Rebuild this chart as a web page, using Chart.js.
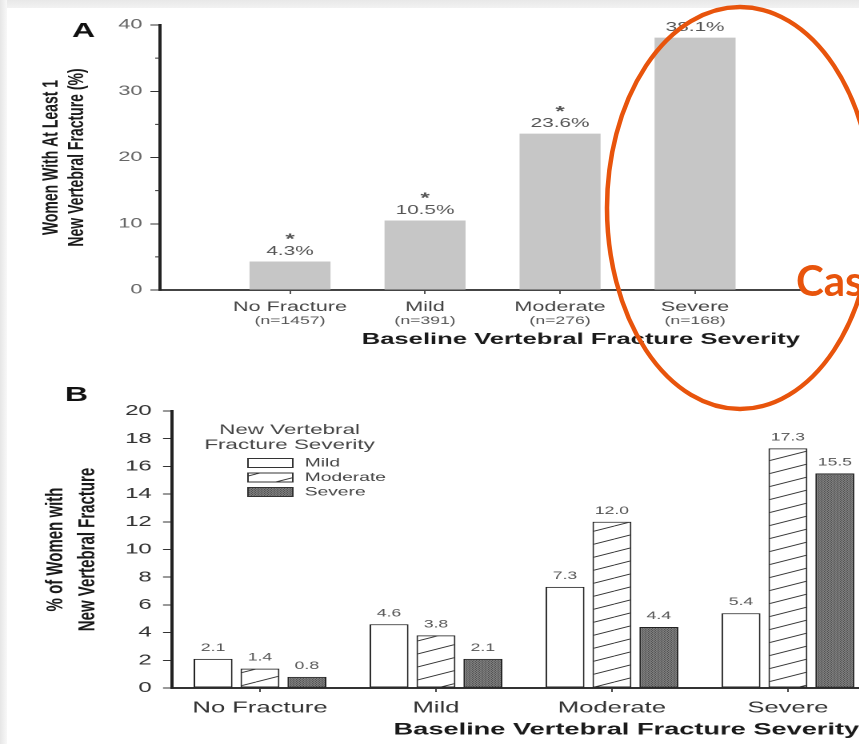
<!DOCTYPE html>
<html>
<head>
<meta charset="utf-8">
<script src="https://cdn.jsdelivr.net/npm/chart.js@4.4.1/dist/chart.umd.min.js"></script>
<style>
  body { margin: 0; background: #fff; }
  #page { position: relative; width: 859px; height: 744px; overflow: hidden; background: #fff; }
  /* the scanned figure is stretched sideways, so the canvases are too */
  #page canvas { position: absolute; left: 0; transform-origin: 0 0; transform: scaleX(1.6); }
  #chartA { top: 0; }
  #chartB { top: 370px; }
  .strip-top { position: absolute; left: 0; top: 0; width: 859px; height: 8px; background: linear-gradient(to bottom, #e8e8e8, #f2f2f2); }
  .strip-left { position: absolute; left: 0; top: 0; width: 7px; height: 744px; background: linear-gradient(to right, #e6e6e6, #f8f8f8); }
  #marks { position: absolute; left: 0; top: 0; }
</style>
</head>
<body>
<div id="page">
  <canvas id="chartA" width="537" height="370"></canvas>
  <canvas id="chartB" width="537" height="374"></canvas>
  <div class="strip-top"></div>
  <div class="strip-left"></div>
  <svg id="marks" width="859" height="744">
    <ellipse cx="740" cy="208" rx="133" ry="201" fill="none" stroke="#e8540c" stroke-width="4.5"/>
    <text x="796" y="296" font-family="Lato, 'Open Sans', sans-serif" font-weight="bold" font-size="42" fill="#e8540c">Cas</text>
  </svg>
</div>

<script>
// Vertebral fracture figure: panel A (any new fracture) and panel B (by new severity)

const severities = ['No Fracture', 'Mild', 'Moderate', 'Severe'];
const baselineN = [1457, 391, 276, 168];
const pctAtLeastOne = [4.3, 10.5, 23.6, 38.1];
const significant = [true, true, true, false];

const newMild = [2.1, 4.6, 7.3, 5.4];
const newModerate = [1.4, 3.8, 12.0, 17.3];
const newSevere = [0.8, 2.1, 4.4, 15.5];
const newLabels = ['Mild', 'Moderate', 'Severe'];
const legendTitle = ['New Vertebral', 'Fracture Severity'];

const yTitleA = ['Women With At Least 1', 'New Vertebral Fracture (%)'];
const yTitleB = ['% of Women with', 'New Vertebral Fracture'];
const xTitle = 'Baseline Vertebral Fracture Severity';

const FONT = '"Liberation Sans", Arial, Helvetica, sans-serif';

function hatchPattern() {
  const c = document.createElement('canvas');
  c.width = 64; c.height = 26;
  const g = c.getContext('2d');
  g.fillStyle = '#fff';
  g.fillRect(0, 0, 64, 26);
  g.strokeStyle = '#333';
  g.lineWidth = 1.8;
  g.beginPath();
  for (const dy of [-26, 0, 26]) {
    g.moveTo(0, 26 + dy);
    g.lineTo(64, dy);
  }
  g.stroke();
  const p = g.createPattern(c, 'repeat');
  p.setTransform(new DOMMatrix().scale(0.5));
  return p;
}

function dotPattern() {
  const c = document.createElement('canvas');
  c.width = 4; c.height = 4;
  const g = c.getContext('2d');
  g.fillStyle = '#4e4e4e';
  g.fillRect(0, 0, 4, 4);
  g.fillStyle = '#b8b8b8';
  g.fillRect(0, 0, 1, 1); g.fillRect(2, 0, 1, 1);
  g.fillRect(1, 2, 1, 1); g.fillRect(3, 2, 1, 1);
  g.fillStyle = '#808080';
  g.fillRect(1, 0, 1, 1); g.fillRect(0, 2, 1, 1);
  const p = g.createPattern(c, 'repeat');
  p.setTransform(new DOMMatrix().scale(0.5));
  return p;
}

const categoryTicks = s => { s.ticks = severities.map((_, i) => ({ value: i })); };

// ---- panel A ----
const panelA = {
  id: 'panelA',
  afterDraw(chart) {
    const { ctx, scales: { x, y } } = chart;
    ctx.save();
    ctx.strokeStyle = '#333';
    ctx.lineWidth = 1;
    for (let v = 5; v < 40; v += 10) {
      const py = y.getPixelForValue(v);
      ctx.beginPath();
      ctx.moveTo(x.left - 3, py);
      ctx.lineTo(x.left, py);
      ctx.stroke();
    }
    ctx.textAlign = 'center';
    ctx.textBaseline = 'middle';
    ctx.fillStyle = '#555';
    ctx.font = `11px ${FONT}`;
    baselineN.forEach((n, i) => ctx.fillText(`(n=${n})`, x.getPixelForValue(i), x.top + 31));

    chart.getDatasetMeta(0).data.forEach((bar, i) => {
      ctx.font = `13px ${FONT}`;
      ctx.fillText(pctAtLeastOne[i].toFixed(1) + '%', bar.x, bar.y - 10);
      if (significant[i]) {
        ctx.font = `bold 15px ${FONT}`;
        ctx.fillText('*', bar.x, bar.y - 22);
      }
    });

    ctx.fillStyle = '#111';
    ctx.textAlign = 'left';
    ctx.textBaseline = 'alphabetic';
    ctx.font = `bold 20px ${FONT}`;
    ctx.fillText('A', 45, 37);
    ctx.restore();
  }
};

new Chart(document.getElementById('chartA'), {
  type: 'bar',
  data: {
    datasets: [{
      data: pctAtLeastOne.map((v, i) => ({ x: i, y: v })),
      backgroundColor: '#c6c6c6',
      barPercentage: 0.6,
      categoryPercentage: 1
    }]
  },
  options: {
    responsive: false,
    devicePixelRatio: 2,
    animation: false,
    layout: { padding: { top: 25, right: 37, bottom: 10, left: 0 } },
    plugins: { legend: { display: false }, tooltip: { enabled: false } },
    scales: {
      x: {
        type: 'linear',
        min: -0.963,
        max: 3.777,
        offset: false,
        afterBuildTicks: categoryTicks,
        afterFit: s => { s.height = 70; },
        ticks: {
          callback: v => severities[v],
          autoSkip: false,
          maxRotation: 0,
          padding: 5,
          color: '#444',
          font: { family: FONT, size: 13.5 }
        },
        grid: { offset: false, drawOnChartArea: false, tickLength: 4, color: '#555' },
        border: { color: '#444', width: 2 },
        title: {
          display: true,
          text: xTitle,
          align: 'end',
          color: '#1a1a1a',
          font: { family: FONT, size: 16, weight: 'bold' },
          padding: { bottom: 11 }
        }
      },
      y: {
        min: 0,
        max: 40,
        afterFit: s => { s.width = 100; },
        ticks: { stepSize: 10, padding: 5, color: '#666', font: { family: FONT, size: 13.5 } },
        grid: { drawOnChartArea: false, tickLength: 6, color: '#333' },
        border: { color: '#222', width: 2 },
        title: {
          display: true,
          text: yTitleA,
          color: '#1a1a1a',
          font: { family: FONT, size: 14, weight: 'bold', lineHeight: 1.16 },
          padding: { top: 24 }
        }
      }
    }
  },
  plugins: [panelA]
});

// ---- panel B ----
const panelB = {
  id: 'panelB',
  afterDraw(chart) {
    const { ctx } = chart;
    ctx.save();
    ctx.textAlign = 'center';
    ctx.textBaseline = 'middle';
    ctx.fillStyle = '#555';
    ctx.font = `11px ${FONT}`;
    chart.data.datasets.forEach((ds, d) => {
      chart.getDatasetMeta(d).data.forEach((bar, i) => {
        ctx.fillText(ds.data[i].y.toFixed(1), bar.x, bar.y - 11);
      });
    });

    // legend in the upper left of the plot
    ctx.fillStyle = '#444';
    ctx.font = `14px ${FONT}`;
    legendTitle.forEach((t, k) => ctx.fillText(t, 181, 60 + k * 15));
    ctx.textAlign = 'left';
    ctx.font = `12px ${FONT}`;
    chart.data.datasets.forEach((ds, d) => {
      const yy = 93 + d * 14.5;
      ctx.fillStyle = ds.backgroundColor;
      ctx.fillRect(155, yy - 4.5, 28, 9);
      ctx.strokeStyle = '#333';
      ctx.lineWidth = 1;
      ctx.strokeRect(155, yy - 4.5, 28, 9);
      ctx.fillStyle = '#444';
      ctx.fillText(ds.label, 190.5, yy);
    });

    ctx.fillStyle = '#111';
    ctx.textBaseline = 'alphabetic';
    ctx.font = `bold 20px ${FONT}`;
    ctx.fillText('B', 40.6, 31);
    ctx.restore();
  }
};

const seriesB = [newMild, newModerate, newSevere];
const fillsB = ['#fff', hatchPattern(), dotPattern()];

new Chart(document.getElementById('chartB'), {
  type: 'bar',
  data: {
    datasets: seriesB.map((vals, d) => ({
      label: newLabels[d],
      data: vals.map((v, i) => ({ x: i, y: v })),
      backgroundColor: fillsB[d],
      borderColor: '#222',
      borderWidth: 1,
      borderSkipped: false,
      barPercentage: 0.83,
      categoryPercentage: 0.8
    }))
  },
  options: {
    responsive: false,
    devicePixelRatio: 2,
    animation: false,
    layout: { padding: { top: 41, right: 0, bottom: 0, left: 0 } },
    plugins: { legend: { display: false }, tooltip: { enabled: false } },
    scales: {
      x: {
        type: 'linear',
        min: -0.5,
        max: 3.405,
        offset: false,
        afterBuildTicks: categoryTicks,
        afterFit: s => { s.height = 56; },
        ticks: {
          callback: v => severities[v],
          autoSkip: false,
          maxRotation: 0,
          padding: 6.4,
          color: '#333',
          font: { family: FONT, size: 16 }
        },
        grid: { offset: false, drawOnChartArea: false, tickLength: 4, color: '#444' },
        border: { color: '#333', width: 2 },
        title: {
          display: true,
          text: xTitle,
          align: 'end',
          color: '#1a1a1a',
          font: { family: FONT, size: 17, weight: 'bold' },
          padding: { bottom: 3.8 }
        }
      },
      y: {
        min: 0,
        max: 20,
        afterFit: s => { s.width = 107.5; },
        ticks: { stepSize: 2, padding: 7, color: '#333', font: { family: FONT, size: 15 } },
        grid: { drawOnChartArea: false, tickLength: 5.6, color: '#333' },
        border: { color: '#222', width: 2 },
        title: {
          display: true,
          text: yTitleB,
          color: '#1a1a1a',
          font: { family: FONT, size: 15, weight: 'bold', lineHeight: 1.33 },
          padding: { top: 25 }
        }
      }
    }
  },
  plugins: [panelB]
});
</script>
</body>
</html>
